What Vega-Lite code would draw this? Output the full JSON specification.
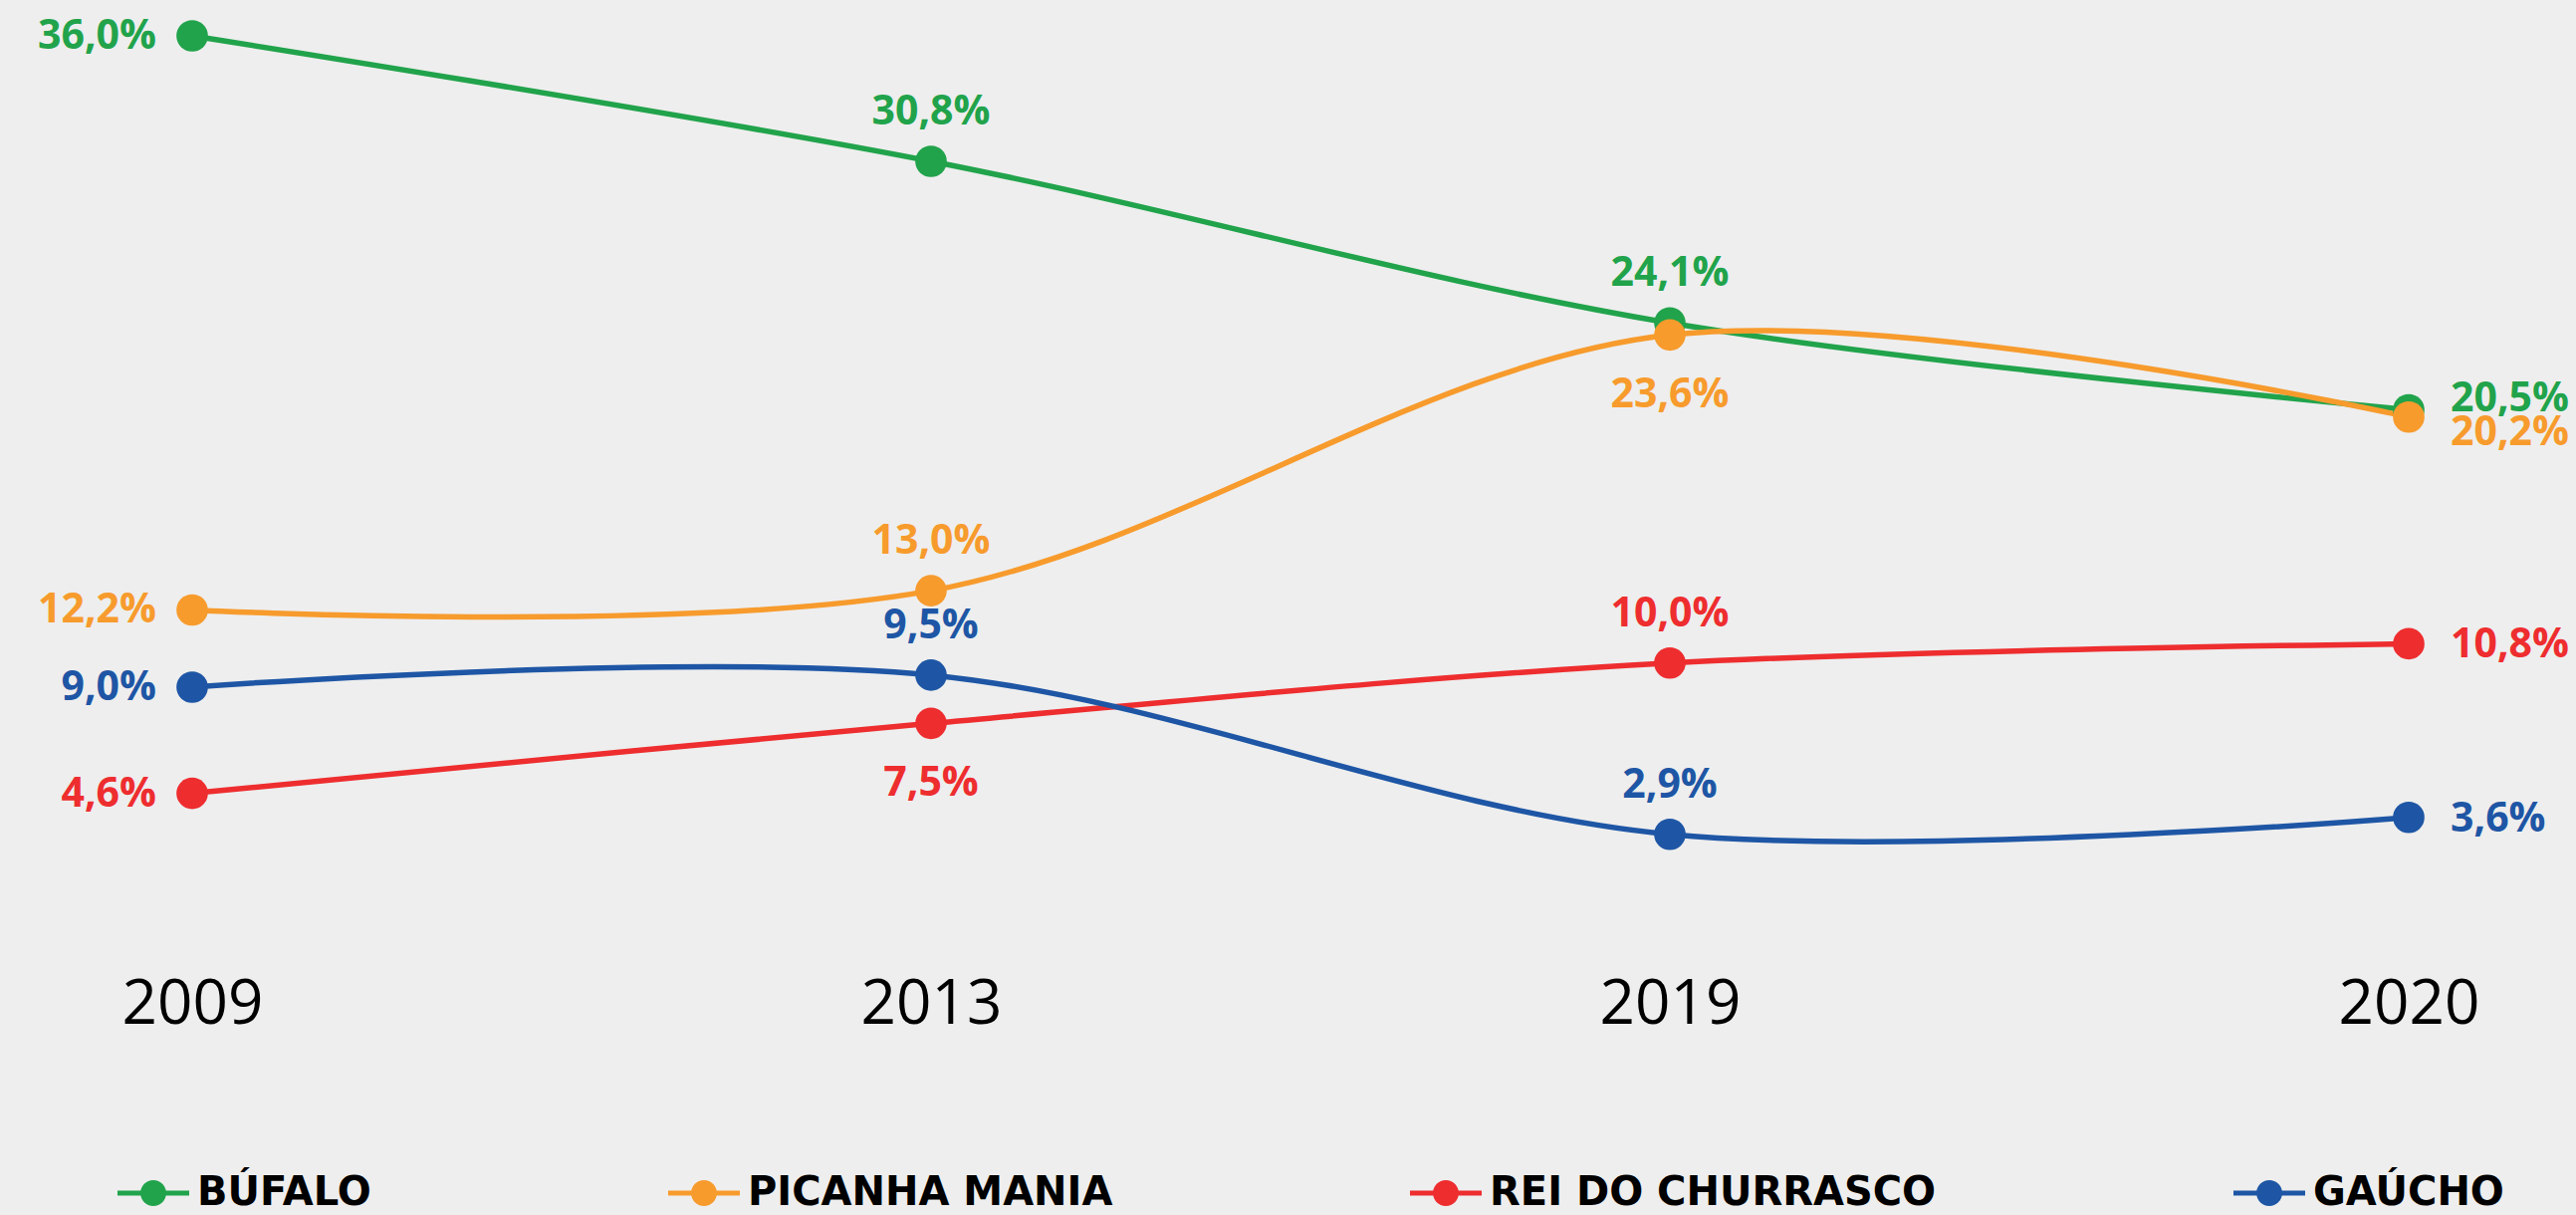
{
  "$schema": "https://vega.github.io/schema/vega-lite/v6.json",
  "autosize": "none",
  "width": 2226,
  "height": 872,
  "padding": {"left": 193, "top": 36, "right": 168, "bottom": 312},
  "background": "#eeeeee",
  "config": {"view": {"stroke": null}},
  "data": {"values": [
    {"year": "2009", "brand": "BÚFALO", "value": 36.0, "label": "36,0%"},
    {"year": "2013", "brand": "BÚFALO", "value": 30.8, "label": "30,8%"},
    {"year": "2019", "brand": "BÚFALO", "value": 24.1, "label": "24,1%"},
    {"year": "2020", "brand": "BÚFALO", "value": 20.5, "label": "20,5%"},
    {"year": "2009", "brand": "PICANHA MANIA", "value": 12.2, "label": "12,2%"},
    {"year": "2013", "brand": "PICANHA MANIA", "value": 13.0, "label": "13,0%"},
    {"year": "2019", "brand": "PICANHA MANIA", "value": 23.6, "label": "23,6%"},
    {"year": "2020", "brand": "PICANHA MANIA", "value": 20.2, "label": "20,2%"},
    {"year": "2009", "brand": "REI DO CHURRASCO", "value": 4.6, "label": "4,6%"},
    {"year": "2013", "brand": "REI DO CHURRASCO", "value": 7.5, "label": "7,5%"},
    {"year": "2019", "brand": "REI DO CHURRASCO", "value": 10.0, "label": "10,0%"},
    {"year": "2020", "brand": "REI DO CHURRASCO", "value": 10.8, "label": "10,8%"},
    {"year": "2009", "brand": "GAÚCHO", "value": 9.0, "label": "9,0%"},
    {"year": "2013", "brand": "GAÚCHO", "value": 9.5, "label": "9,5%"},
    {"year": "2019", "brand": "GAÚCHO", "value": 2.9, "label": "2,9%"},
    {"year": "2020", "brand": "GAÚCHO", "value": 3.6, "label": "3,6%"}
  ]},
  "encoding": {
    "x": {"field": "year", "type": "ordinal", "scale": {"type": "point", "padding": 0},
      "axis": {"title": null, "domain": false, "ticks": false, "grid": false, "labelAngle": 0,
        "labelFont": "Open Sans", "labelFontSize": 62, "labelColor": "#000000", "labelPadding": 70}},
    "y": {"field": "value", "type": "quantitative", "scale": {"domain": [0, 36], "nice": false, "zero": true}, "axis": null},
    "color": {"field": "brand", "type": "nominal",
      "scale": {"domain": ["BÚFALO", "PICANHA MANIA", "REI DO CHURRASCO", "GAÚCHO"],
        "range": ["#21a34b", "#f79b2d", "#ee2d2f", "#1e56a5"]},
      "legend": {"title": null, "orient": "none", "legendX": -75, "legendY": 1126,
        "direction": "horizontal", "columns": 4, "columnPadding": 298, "padding": 0,
        "labelFont": "DejaVu Sans", "labelFontWeight": "bold", "labelFontSize": 40, "labelColor": "#000000",
        "labelOffset": 8, "labelLimit": 1000,
        "symbolType": "M-1,-0.07 L1,-0.07 L1,0.07 L-1,0.07 Z M0.36,0 A0.36,0.36 0 1,1 -0.36,0 A0.36,0.36 0 1,1 0.36,0 Z",
        "symbolSize": 5184, "symbolStrokeWidth": 0, "symbolOpacity": 1,
        "encode": {"symbols": {"update": {"fill": {"scale": "color", "field": "value"}, "stroke": {"value": "transparent"}, "opacity": {"value": 1}}}}}}
  },
  "layer": [
    {"mark": {"type": "line", "interpolate": "catmull-rom", "strokeWidth": 5.5}},
    {"mark": {"type": "point", "filled": true, "size": 1000, "opacity": 1}},
    {"transform": [{"filter": "datum.year == '2009'"}],
     "mark": {"type": "text", "align": "right", "baseline": "middle", "dx": -36, "dy": 1, "font": "Open Sans", "fontWeight": "bold", "fontSize": 41},
     "encoding": {"text": {"field": "label"}}},
    {"transform": [{"filter": "datum.year == '2020' && datum.brand == 'BÚFALO'"}],
     "mark": {"type": "text", "align": "left", "baseline": "middle", "dx": 42, "dy": -10, "font": "Open Sans", "fontWeight": "bold", "fontSize": 41},
     "encoding": {"text": {"field": "label"}}},
    {"transform": [{"filter": "datum.year == '2020' && datum.brand == 'PICANHA MANIA'"}],
     "mark": {"type": "text", "align": "left", "baseline": "middle", "dx": 42, "dy": 16, "font": "Open Sans", "fontWeight": "bold", "fontSize": 41},
     "encoding": {"text": {"field": "label"}}},
    {"transform": [{"filter": "datum.year == '2020' && datum.brand != 'BÚFALO' && datum.brand != 'PICANHA MANIA'"}],
     "mark": {"type": "text", "align": "left", "baseline": "middle", "dx": 42, "dy": 2, "font": "Open Sans", "fontWeight": "bold", "fontSize": 41},
     "encoding": {"text": {"field": "label"}}},
    {"transform": [{"filter": "(datum.year == '2013' || datum.year == '2019') && !((datum.year == '2013' && datum.brand == 'REI DO CHURRASCO') || (datum.year == '2019' && datum.brand == 'PICANHA MANIA'))"}],
     "mark": {"type": "text", "align": "center", "baseline": "middle", "dy": -49, "font": "Open Sans", "fontWeight": "bold", "fontSize": 41},
     "encoding": {"text": {"field": "label"}}},
    {"transform": [{"filter": "(datum.year == '2013' && datum.brand == 'REI DO CHURRASCO') || (datum.year == '2019' && datum.brand == 'PICANHA MANIA')"}],
     "mark": {"type": "text", "align": "center", "baseline": "middle", "dy": 61, "font": "Open Sans", "fontWeight": "bold", "fontSize": 41},
     "encoding": {"text": {"field": "label"}}}
  ]
}
